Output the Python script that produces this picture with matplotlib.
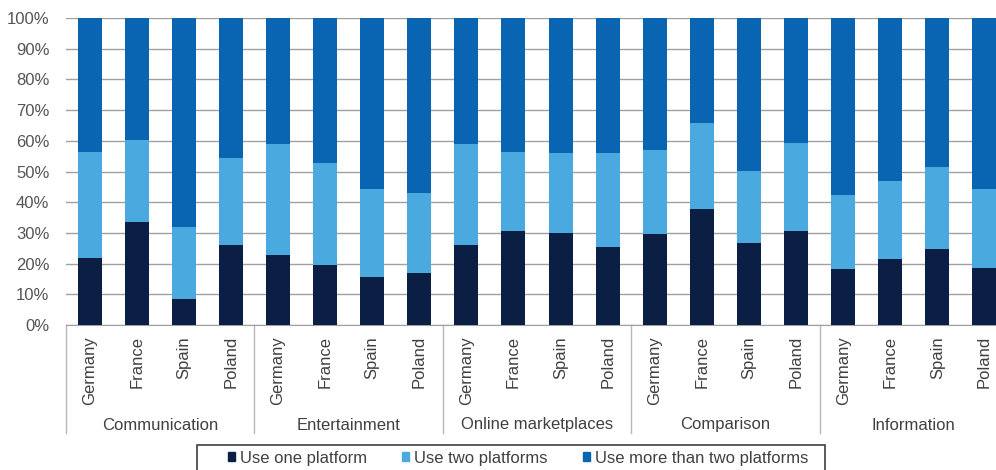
import numpy as np
import matplotlib.pyplot as plt
from matplotlib.patches import Patch, Rectangle

plt.rcParams['font.family'] = ['Liberation Sans', 'DejaVu Sans']

groups = ['Communication', 'Entertainment', 'Online marketplaces', 'Comparison', 'Information']
countries = ['Germany', 'France', 'Spain', 'Poland']

# shares in %, four countries per group, in group order
one_platform = [21.7, 33.7, 8.4, 26.2,
                22.8, 19.5, 15.6, 16.9,
                26.0, 30.6, 30.0, 25.3,
                29.8, 37.7, 26.6, 30.6,
                18.1, 21.5, 24.7, 18.7]
two_platforms = [34.8, 26.4, 23.4, 28.2,
                 36.0, 33.3, 28.7, 26.0,
                 32.8, 25.6, 26.0, 30.7,
                 27.1, 28.2, 23.6, 28.7,
                 24.2, 25.5, 26.8, 25.5]
more_platforms = [100 - a - b for a, b in zip(one_platform, two_platforms)]

c_one = '#0b1f45'
c_two = '#4aa9de'
c_more = '#0965b1'
txt = '#404040'

fig = plt.figure(figsize=(9.96, 4.70), dpi=100)
ax = fig.add_axes([66 / 996, 1 - 325 / 470, 942 / 996, 307 / 470])

x = np.arange(len(one_platform))
w = 0.51
ax.bar(x, one_platform, w, color=c_one, zorder=3)
ax.bar(x, two_platforms, w, bottom=one_platform, color=c_two, zorder=3)
ax.bar(x, more_platforms, w, bottom=np.add(one_platform, two_platforms), color=c_more, zorder=3)

ax.set_xlim(-0.5, len(x) - 0.5)
ax.set_ylim(0, 100)
ax.set_yticks(np.arange(0, 101, 10))
ax.set_yticklabels([f'{v}%' for v in range(0, 101, 10)], color='#555555', fontsize=12)
ax.yaxis.grid(True, color='#a0a0a0', linewidth=1.0, zorder=0)
ax.tick_params(axis='y', length=0, pad=12)

ax.set_xticks(x)
ax.set_xticklabels(countries * len(groups), rotation=90, color=txt, fontsize=12, va='top')
ax.tick_params(axis='x', length=0, pad=8)

for s in ['top', 'right', 'left']:
    ax.spines[s].set_visible(False)
ax.spines['bottom'].set_color('#a0a0a0')

# group separators and group names below the country labels
trans = ax.get_xaxis_transform()
sep_low = -(433 - 325) / 307
for i in range(len(groups) + 1):
    xs = i * 4 - 0.5
    ax.plot([xs, xs], [0, sep_low], color='#b8b8b8', lw=1, transform=trans, clip_on=False)
for i, g in enumerate(groups):
    ax.text(i * 4 + 1.5, -(425 - 325) / 307, g, transform=trans, ha='center', va='center',
            color=txt, fontsize=12)

# legend box drawn separately so the side padding can be wider than the top
fig.add_artist(Rectangle((197 / 996, -0.02), (825 - 197) / 996, 0.02 + 1 - 445 / 470,
                         transform=fig.transFigure, fill=False, edgecolor='#404040', lw=1.2))
handles = [Patch(color=c_one, label='Use one platform'),
           Patch(color=c_two, label='Use two platforms'),
           Patch(color=c_more, label='Use more than two platforms')]
leg = fig.legend(handles=handles, loc='center left', bbox_to_anchor=(228 / 996, 1 - 458 / 470),
                 ncol=3, fontsize=12, frameon=False, handlelength=0.42,
                 handleheight=0.42, handletextpad=0.3, columnspacing=2.1,
                 borderpad=0, borderaxespad=0)
for t in leg.get_texts():
    t.set_color(txt)

fig.savefig('out.png', dpi=100)
